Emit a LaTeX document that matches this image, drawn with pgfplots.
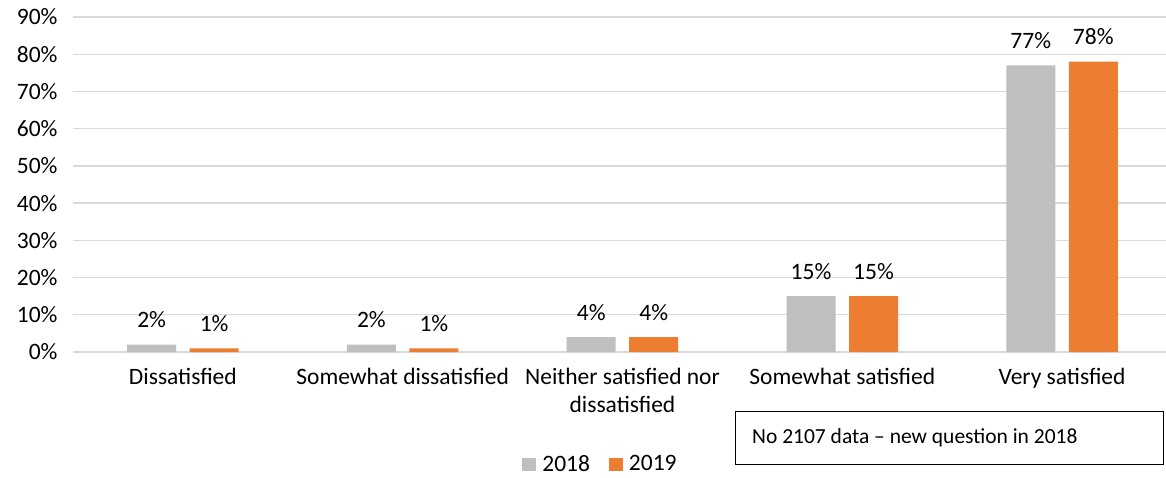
\documentclass[border=0pt]{standalone}
\usepackage{pgfplots}
\pgfplotsset{compat=1.18}
\usepackage{fontspec}
\setmainfont{Carlito}
\definecolor{bargray}{HTML}{BFBFBF}
\definecolor{barorange}{HTML}{ED7D31}
\definecolor{gridgray}{HTML}{D9D9D9}
\begin{document}
\begin{tikzpicture}
\useasboundingbox (-73bp,-126bp) rectangle (1093bp,352bp);
\begin{axis}[
  at={(0,0)}, anchor=south west,
  scale only axis,
  width=1099bp, height=335bp,
  xmin=-0.5, xmax=4.5,
  ymin=0, ymax=90,
  ybar, bar width=49bp, bar shift auto=false,
  axis line style={draw=none},
  tick style={draw=none},
  ymajorgrids, grid style={gridgray, line width=1.3bp},
  ytick={0,10,20,30,40,50,60,70,80,90},
  yticklabels={0\%,10\%,20\%,30\%,40\%,50\%,60\%,70\%,80\%,90\%},
  xtick={0,1,2,3,4},
  xticklabels={Dissatisfied, Somewhat dissatisfied, Neither satisfied nor\\dissatisfied, Somewhat satisfied, Very satisfied},
  xticklabel style={align=center, yshift=-8bp},
  yticklabel style={xshift=-12bp},
  ticklabel style={font=\fontsize{23.5bp}{28bp}\selectfont},
  /pgf/number format/assume math mode=true,
  nodes near coords={\pgfmathprintnumber{\pgfplotspointmeta}\%},
  every node near coord/.append style={font=\fontsize{23.5bp}{28bp}\selectfont, anchor=base, inner sep=0pt, yshift=17bp},
  legend columns=2,
  legend style={at={(0.48,-0.334)}, anchor=center, draw=none, fill=none,
    font=\fontsize{23.5bp}{28bp}\selectfont,
    /tikz/every odd column/.append style={column sep=4bp},
    /tikz/every even column/.append style={column sep=17bp}},
  legend image code/.code={\fill[#1] (0bp,-7bp) rectangle (14bp,6bp);},
]
\addplot[fill=bargray, draw=none, bar shift=-31.25bp] coordinates {(0,2) (1,2) (2,4) (3,15) (4,77)};
\addlegendentry{2018}
\addplot[fill=barorange, draw=none, bar shift=31.25bp] coordinates {(0,1) (1,1) (2,4) (3,15) (4,78)};
\addlegendentry{2019}
\end{axis}
\draw[black, line width=1bp] (662bp,-59bp) rectangle (1090bp,-112bp);
\node[anchor=west, inner sep=0pt, font=\fontsize{21.5bp}{26bp}\selectfont] at (679bp,-85.5bp) {No 2107 data – new question in 2018};
\end{tikzpicture}
\end{document}
